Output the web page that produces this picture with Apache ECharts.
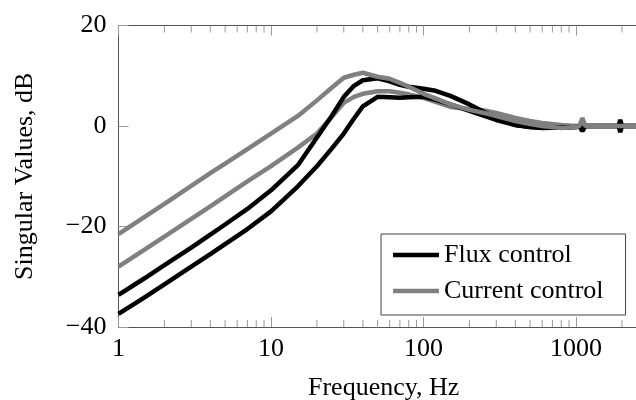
<!DOCTYPE html>
<html>
<head>
<meta charset="utf-8">
<script src="https://cdn.jsdelivr.net/npm/echarts@6/dist/echarts.min.js"></script>
<style>
    html, body { margin: 0; padding: 0; background: #fff; }
    #chart { width: 636px; height: 400px; }
</style>
</head>
<body>
<div id="chart"></div>
<script>
// frequency grid, Hz
var freqs = [1, 1.5, 2, 3, 4, 5, 7, 10, 15, 20, 25, 30, 35, 40, 50, 60, 70, 80, 100, 120, 150,
    200, 250, 300, 400, 500, 600, 800, 1000, 1050, 1100, 1150, 1300, 1500, 1900, 1950, 2000, 2500, 3000];
// singular values, dB
var fluxHigh = [-33.6, -30.2, -27.7, -24.2, -21.6, -19.6, -16.5, -12.8, -7.8, -2.3, 2, 5.8, 8, 9.1, 9.5, 8.9, 8.2, 7.8, 7.4, 7.0, 6.0,
    4.3, 2.8, 1.6, 0.2, -0.2, -0.4, -0.3, -0.2, 0, -1.0, 0, 0, 0, 0, 1.2, 0, 0, 0];
var fluxLow = [-37.4, -34, -31.5, -28, -25.5, -23.5, -20.5, -17, -12, -8, -4.5, -1.5, 1.5, 3.9, 5.8, 5.7, 5.6, 5.7, 5.8, 5.2, 4.3,
    3.0, 2.0, 1.2, 0.2, -0.2, -0.3, -0.3, -0.2, 0, -0.6, 0, 0, 0, 0, -1.2, 0, 0, 0];
var currentHigh = [-21.5, -18.0, -15.5, -11.9, -9.4, -7.5, -4.6, -1.5, 2.0, 5.1, 7.6, 9.6, 10.2, 10.6, 9.8, 9.4, 8.6, 7.8, 6.4, 5.5, 4.3,
    3.2, 2.6, 2.0, 1.0, 0.4, 0.0, -0.4, -0.2, 0, 1.6, 0, 0, 0, 0, 0, 0, 0, 0];
var currentLow = [-28, -24.5, -22, -18.5, -16, -14, -11, -8, -4.3, -1.5, 1.8, 4.6, 5.8, 6.4, 6.9, 6.9, 6.6, 6.3, 5.6, 4.8, 3.8,
    3.4, 3.1, 2.6, 1.6, 1.0, 0.6, 0.2, 0, 0, 0, 0, 0, 0, 0, 0, 0, 0, 0];
// minor tick positions of the log axis
var minorTicks = [2, 3, 4, 5, 6, 7, 8, 9, 20, 30, 40, 50, 60, 70, 80, 90,
    200, 300, 400, 500, 600, 700, 800, 900, 2000];

var FONT = 'Liberation Serif';

function pairs (ys) {
    return freqs.map(function (f, i) { return [f, ys[i]]; });
}

function lineSeries (name, ys, color) {
    return {
        name: name,
        type: 'line',
        data: pairs(ys),
        showSymbol: false,
        symbol: 'none',
        color: color,
        lineStyle: { color: color, width: 4.5 },
        animation: false
    };
}

function xAxisBase (pos) {
    return {
        type: 'log',
        logBase: 10,
        position: pos,
        min: 1,
        max: 3000,
        axisLine: { show: true, onZero: false, lineStyle: { color: '#555', width: 1 } },
        axisTick: { show: true, inside: true, length: 10, lineStyle: { color: '#999' } },
        splitLine: { show: false },
        minorTick: { show: false },
        axisLabel: { show: false }
    };
}

var bottomAxis = xAxisBase('bottom');
bottomAxis.axisLabel = {
    show: true,
    margin: 9,
    color: '#000',
    fontFamily: FONT,
    fontSize: 26,
    formatter: function (v) {
        var p = Math.log10(v);
        return Math.abs(p - Math.round(p)) < 1e-6 ? String(Math.round(v)) : '';
    }
};
bottomAxis.name = 'Frequency, Hz';
bottomAxis.nameLocation = 'middle';
bottomAxis.nameGap = 48;
bottomAxis.nameTextStyle = { color: '#000', fontFamily: FONT, fontSize: 26 };

var topAxis = xAxisBase('top');

var chart = echarts.init(document.getElementById('chart'));
chart.setOption({
    backgroundColor: '#fff',
    animation: false,
    grid: { left: 118.5, top: 25.5, width: 530.3, height: 301.5, outerBoundsMode: 'none', containLabel: false },
    legend: {
        orient: 'vertical',
        left: 381,
        top: 234,
        padding: [8, 22, 11, 12],
        itemGap: 10,
        itemWidth: 46,
        itemHeight: 4.5,
        icon: 'rect',
        borderColor: '#444',
        borderWidth: 1,
        backgroundColor: '#fff',
        textStyle: { color: '#000', fontFamily: FONT, fontSize: 26 },
        data: ['Flux control', 'Current control']
    },
    xAxis: [bottomAxis, topAxis],
    yAxis: {
        type: 'value',
        min: -40,
        max: 20,
        interval: 20,
        name: 'Singular Values, dB',
        nameLocation: 'middle',
        nameGap: 80,
        nameTextStyle: { color: '#000', fontFamily: FONT, fontSize: 26 },
        axisLine: { show: true, onZero: false, lineStyle: { color: '#555', width: 1 } },
        axisTick: { show: true, inside: true, length: 10, lineStyle: { color: '#999' } },
        splitLine: { show: false },
        axisLabel: {
            margin: 12,
            color: '#000',
            fontFamily: FONT,
            fontSize: 26,
            formatter: function (v) {
                return v < 0 ? '\u2212' + Math.abs(v) : String(v);
            }
        }
    },
    series: [
        {
            type: 'custom',
            silent: true,
            xAxisIndex: 0,
            yAxisIndex: 0,
            data: minorTicks.map(function (f) { return [f]; }),
            renderItem: function (params, api) {
                var f = api.value(0);
                var b = api.coord([f, -40]);
                var t = api.coord([f, 20]);
                var style = { stroke: '#999', lineWidth: 1 };
                return {
                    type: 'group',
                    children: [
                        { type: 'line', shape: { x1: b[0], y1: b[1], x2: b[0], y2: b[1] - 7 }, style: style },
                        { type: 'line', shape: { x1: t[0], y1: t[1], x2: t[0], y2: t[1] + 7 }, style: style }
                    ]
                };
            },
            animation: false
        },
        lineSeries('Current control', currentLow, '#808080'),
        lineSeries('Flux control', fluxLow, '#000000'),
        lineSeries('Flux control', fluxHigh, '#000000'),
        lineSeries('Current control', currentHigh, '#808080')
    ]
});
</script>
</body>
</html>
